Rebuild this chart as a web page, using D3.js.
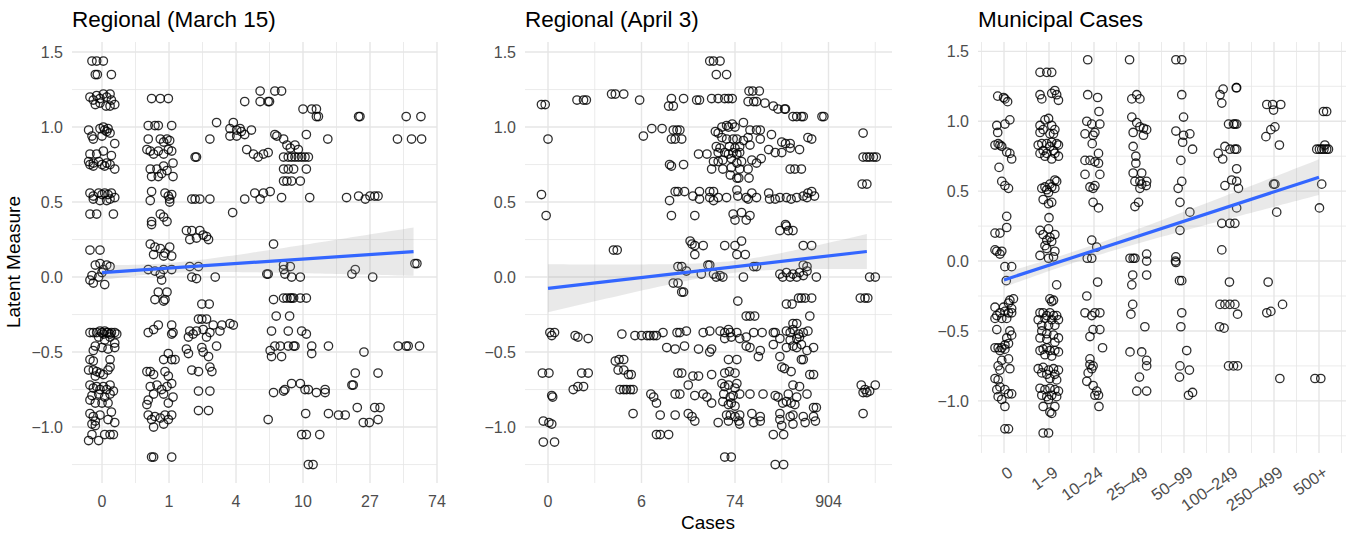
<!DOCTYPE html>
<html>
<head>
<meta charset="utf-8">
<script src="https://cdn.jsdelivr.net/npm/d3@7"></script>
<style>
  body { margin: 0; background: #fff; }
  text { font-family: "Liberation Sans", Arial, Helvetica, sans-serif; }
</style>
</head>
<body>
<svg id="chart" width="1348" height="537"></svg>
<script>
// ---- data -------------------------------------------------------------
const yTicks = [-1.0, -0.5, 0.0, 0.5, 1.0, 1.5];
const march15Labels = ["0", "1", "4", "10", "27", "74"];
const april3Labels = ["0", "6", "74", "904"];
const municipalLabels = ["0", "1–9", "10–24", "25–49", "50–99", "100–249", "250–499", "500+"];

// [case position on the transformed axis (jittered), latent measure]
const march15Points = [
  [-0.15,1.44],[-0.08,1.44],[0.02,1.44],[-0.10,1.35],[-0.07,1.35],[0.14,1.35],
  [-0.18,1.2],[-0.13,1.18],[-0.08,1.21],[-0.03,1.19],[0.02,1.22],[0.07,1.2],[0.12,1.22],[0.14,1.18],[0.19,1.15],[-0.10,1.15],[-0.03,1.16],[0.06,1.14],[0.12,1.14],
  [-0.20,0.98],[-0.15,0.94],[-0.03,0.99],[0.02,1.0],[0.04,0.98],[0.07,0.97],[0.09,0.99],[0.12,0.96],[0.19,0.89],[0.0,0.94],[-0.13,0.92],
  [-0.18,0.82],[-0.08,0.82],[0.02,0.84],[0.14,0.81],[-0.2,0.77],[-0.13,0.76],[-0.05,0.77],[0.0,0.75],[0.07,0.76],[0.12,0.75],[0.19,0.72],[-0.13,0.74],[-0.18,0.75],[0.04,0.74],
  [-0.18,0.56],[-0.13,0.54],[-0.05,0.56],[0.0,0.55],[0.04,0.56],[0.09,0.55],[0.14,0.56],[0.19,0.53],[-0.13,0.52],[-0.03,0.51],[0.07,0.51],[0.12,0.52],
  [-0.18,0.42],[-0.08,0.42],[0.17,0.42],[-0.18,0.18],[-0.03,0.18],
  [-0.10,0.08],[-0.03,0.09],[0.07,0.08],[-0.15,0.01],[-0.05,0.0],[0.0,0.03],[0.02,0.05],[-0.13,-0.04],[0.04,-0.05],[0.12,0.07],[-0.18,-0.02],
  [-0.18,-0.37],[-0.13,-0.37],[-0.08,-0.37],[-0.03,-0.36],[0.0,-0.37],[0.02,-0.38],[0.04,-0.36],[0.07,-0.37],[0.09,-0.37],[0.12,-0.38],[0.14,-0.37],[0.19,-0.37],[0.22,-0.38],
  [-0.05,-0.40],[0.04,-0.42],[0.12,-0.40],[0.19,-0.44],[-0.10,-0.46],[0.0,-0.47],[0.09,-0.48],[0.19,-0.47],[-0.13,-0.49],
  [-0.18,-0.55],[-0.13,-0.56],[0.12,-0.55],[-0.20,-0.62],[-0.13,-0.62],[-0.08,-0.63],[-0.03,-0.64],[0.02,-0.65],[0.09,-0.62],[0.12,-0.6],[-0.1,-0.66],
  [-0.18,-0.72],[-0.13,-0.74],[-0.08,-0.73],[-0.03,-0.75],[0.02,-0.73],[0.07,-0.75],[0.12,-0.72],[0.17,-0.76],[-0.15,-0.79],[-0.05,-0.78],[0.04,-0.8],[0.12,-0.78],[-0.18,-0.82],[-0.1,-0.84],[0.0,-0.84],[0.09,-0.84],
  [-0.18,-0.91],[-0.13,-0.93],[-0.10,-0.96],[-0.03,-0.92],[0.09,-0.95],[0.19,-0.97],[-0.15,-0.98],[-0.1,-0.99],[0.14,-0.9],
  [-0.20,-1.09],[-0.15,-1.05],[-0.05,-1.09],[0.04,-1.05],[0.12,-1.05],[0.17,-1.05],
  [0.74,1.19],[0.87,1.19],[0.99,1.19],[0.69,1.01],[0.79,1.01],[0.84,1.01],[1.04,1.01],
  [0.69,0.92],[0.87,0.92],[0.92,0.9],[0.97,0.92],[1.01,0.91],
  [0.67,0.85],[0.72,0.84],[0.77,0.82],[0.84,0.84],[0.92,0.82],[0.99,0.85],[1.04,0.84],
  [0.72,0.72],[0.82,0.72],[0.92,0.74],[1.06,0.76],[0.74,0.67],[0.84,0.67],[0.89,0.69],[0.97,0.71],[1.06,0.67],
  [0.74,0.57],[0.72,0.51],[0.94,0.56],[0.99,0.54],[1.01,0.52],[1.04,0.55],[1.01,0.5],
  [0.74,0.37],[0.87,0.42],[0.92,0.40],[0.97,0.37],[0.74,0.35],
  [0.72,0.22],[0.79,0.2],[0.87,0.19],[0.94,0.16],[1.01,0.2],[0.77,0.15],[0.92,0.14],[1.04,0.14],
  [0.69,0.05],[0.79,0.04],[0.92,0.05],[1.04,0.05],[0.87,0.02],[0.89,-0.02],
  [0.84,-0.1],[0.79,-0.15],[0.97,-0.1],[0.92,-0.16],[0.94,-0.15],
  [0.69,-0.37],[0.77,-0.35],[0.84,-0.32],[1.04,-0.32],[1.04,-0.38],[1.06,-0.37],
  [0.92,-0.55],[0.99,-0.51],[1.04,-0.55],[1.09,-0.55],
  [0.67,-0.63],[0.72,-0.63],[0.77,-0.65],[0.94,-0.63],[0.99,-0.66],
  [0.72,-0.73],[0.82,-0.72],[0.89,-0.75],[0.97,-0.73],[1.04,-0.71],[1.06,-0.8],[0.69,-0.82],[0.77,-0.78],[0.92,-0.78],[0.99,-0.84],[0.67,-0.85],
  [0.69,-0.92],[0.74,-0.95],[0.79,-0.93],[0.87,-0.94],[0.94,-0.92],[0.99,-0.95],[1.04,-0.92],[0.77,-1.0],[0.92,-0.98],
  [0.74,-1.2],[0.77,-1.2],[1.04,-1.2],
  [1.39,0.8],[1.41,0.8],[1.34,0.52],[1.39,0.52],[1.46,0.52],[1.61,0.52],
  [1.26,0.31],[1.34,0.31],[1.46,0.31],[1.51,0.28],[1.59,0.25],[1.31,0.25],[1.41,0.26],[1.56,0.27],
  [1.71,1.03],[1.61,0.92],
  [1.31,0.07],[1.44,0.07],[1.34,0.0],[1.41,-0.01],[1.69,0.0],
  [1.49,-0.18],[1.60,-0.18],[1.44,-0.28],[1.49,-0.28],[1.56,-0.28],
  [1.66,-0.32],[1.79,-0.32],[1.91,-0.31],[1.96,-0.32],
  [1.31,-0.36],[1.41,-0.36],[1.51,-0.35],[1.61,-0.37],[1.76,-0.36],[1.29,-0.4],[1.36,-0.38],[1.56,-0.4],
  [1.26,-0.48],[1.29,-0.51],[1.49,-0.47],[1.51,-0.5],[1.59,-0.53],[1.71,-0.46],
  [1.34,-0.62],[1.44,-0.63],[1.64,-0.63],[1.61,-0.6],[1.44,-0.76],[1.61,-0.76],[1.44,-0.89],[1.59,-0.89],
  [2.36,1.24],[2.58,1.24],[2.68,1.24],[2.13,1.17],[2.36,1.17],[2.48,1.17],[2.50,1.17],
  [1.96,1.03],[1.91,0.99],[2.01,0.98],[2.06,0.99],[2.08,0.97],[2.23,0.98],
  [1.91,0.94],[2.01,0.94],[2.13,0.95],[2.58,0.95],[2.61,0.94],[2.71,0.92],[3.05,0.95],
  [2.16,0.85],[2.26,0.82],[2.33,0.8],[2.41,0.82],[2.48,0.83],
  [2.76,0.88],[2.81,0.86],[2.88,0.88],[2.93,0.85],
  [2.71,0.8],[2.78,0.8],[2.83,0.8],[2.88,0.8],[2.93,0.8],[2.98,0.8],[3.03,0.8],[3.08,0.8],
  [2.71,0.72],[2.78,0.72],[2.86,0.72],[3.05,0.72],[2.71,0.64],[2.76,0.64],[2.83,0.64],[2.96,0.64],
  [2.28,0.56],[2.41,0.56],[2.51,0.57],[2.36,0.52],[2.13,0.52],[2.68,0.53],[3.10,0.53],
  [1.95,0.43],[2.56,0.22],[2.71,0.08],[2.81,0.07],
  [3.0,1.12],[3.13,1.12],[3.20,1.12],[3.23,1.07],[3.20,1.07],[3.37,0.92],
  [2.46,0.02],[2.48,0.02],[2.71,0.05],[2.73,0.02],[2.83,0.0],[2.96,0.0],
  [2.56,-0.15],[2.71,-0.14],[2.76,-0.14],[2.81,-0.14],[2.83,-0.14],[2.86,-0.14],[2.96,-0.14],[3.05,-0.14],
  [2.60,-0.26],[2.80,-0.26],[2.53,-0.36],[2.78,-0.36],[2.98,-0.36],[3.05,-0.38],
  [2.51,-0.49],[2.58,-0.46],[2.66,-0.46],[2.78,-0.46],[2.86,-0.46],[2.88,-0.46],[3.13,-0.46],[3.38,-0.46],[2.53,-0.53],[2.68,-0.53],[3.13,-0.51],
  [2.83,-0.71],[2.96,-0.71],[2.56,-0.77],[2.71,-0.76],[2.73,-0.75],[3.03,-0.75],[3.08,-0.75],[3.20,-0.77],[3.33,-0.77],[3.33,-0.75],
  [3.04,-0.91],[3.38,-0.91],[3.53,-0.92],[3.63,-0.92],[2.48,-0.95],
  [2.98,-1.05],[3.05,-1.05],[3.25,-1.05],[3.08,-1.25],[3.15,-1.25],
  [3.83,1.07],[3.85,1.07],[3.65,0.53],[3.83,0.54],[3.93,0.52],[4.0,0.54],[4.07,0.54],[4.12,0.54],
  [3.73,0.02],[3.78,0.05],[4.04,0.0],[3.91,-0.5],[3.78,-0.64],[4.12,-0.64],[3.73,-0.72],[3.75,-0.72],
  [3.81,-0.87],[4.07,-0.87],[4.15,-0.87],[3.90,-0.97],[3.99,-0.97],[4.12,-0.95],
  [4.54,1.07],[4.76,1.07],[4.41,0.92],[4.62,0.92],[4.77,0.92],[4.67,0.09],[4.70,0.09],
  [4.42,-0.46],[4.54,-0.46],[4.57,-0.46],[4.74,-0.46]
];

const april3Points = [
  [-0.07,1.15],[-0.03,1.15],[0.0,0.92],[-0.07,0.55],[-0.02,0.41],[0.31,1.18],[0.38,1.18],[0.41,1.18],
  [0.68,1.22],[0.72,1.22],[0.81,1.22],[0.98,1.18],[0.70,0.18],[0.74,0.18],[1.02,0.94],[1.11,0.99],
  [1.73,1.44],[1.77,1.44],[1.84,1.44],[1.80,1.35],[1.91,1.35],[2.15,1.24],[2.19,1.24],[2.26,1.24],
  [1.32,1.19],[1.45,1.19],[1.59,1.18],[1.62,1.18],[1.75,1.19],[1.82,1.19],[1.89,1.19],[1.93,1.19],[1.97,1.19],
  [2.14,1.17],[2.20,1.17],[2.23,1.17],[2.32,1.16],[2.41,1.14],
  [1.29,1.14],[1.34,1.14],[2.46,1.12],[2.53,1.12],[2.54,1.12],
  [2.62,1.07],[2.66,1.07],[2.71,1.07],[2.73,1.07],[2.93,1.07],[2.95,1.07],
  [1.22,0.99],[1.86,1.0],[1.91,1.01],[1.93,1.0],[1.97,1.02],[2.0,1.0],[2.09,1.03],
  [1.34,0.98],[1.38,0.98],[1.41,0.98],[1.79,0.97],[1.82,0.96],[2.16,0.98],[2.23,0.98],[2.27,0.98],[2.39,0.95],[3.37,0.96],
  [1.32,0.92],[1.36,0.92],[1.43,0.92],[1.86,0.93],[1.91,0.92],[1.98,0.92],[2.02,0.92],[2.09,0.91],[2.14,0.93],[2.27,0.92],[2.50,0.9],[2.54,0.89],[2.59,0.89],[2.78,0.93],[2.82,0.92],
  [1.80,0.87],[1.84,0.86],[1.94,0.87],[2.0,0.86],[2.05,0.87],[2.16,0.88],[2.59,0.86],
  [1.61,0.82],[1.70,0.82],[1.82,0.83],[1.89,0.83],[1.93,0.82],[1.98,0.83],[2.02,0.82],[2.05,0.83],[2.36,0.85],[2.43,0.83],[2.50,0.83],[2.69,0.85],
  [3.37,0.8],[3.41,0.8],[3.44,0.8],[3.48,0.8],[3.51,0.8],
  [1.77,0.77],[1.82,0.77],[1.87,0.78],[1.96,0.79],[2.02,0.76],[2.07,0.77],[2.18,0.78],[2.23,0.76],[2.28,0.79],
  [1.30,0.75],[1.32,0.74],[1.45,0.75],
  [1.75,0.72],[1.87,0.72],[1.96,0.73],[2.05,0.72],[2.14,0.72],[2.59,0.72],[2.64,0.72],[2.71,0.72],
  [1.95,0.68],[2.02,0.66],[2.04,0.66],[2.15,0.66],[3.36,0.62],[3.41,0.62],
  [1.36,0.57],[1.39,0.57],[1.46,0.57],[1.62,0.57],[1.73,0.57],[1.77,0.57],[2.02,0.58],[2.18,0.56],[2.36,0.56],[2.78,0.56],[2.82,0.57],
  [1.30,0.51],[1.55,0.54],[1.62,0.52],[1.73,0.53],[1.77,0.51],[1.82,0.53],[1.91,0.53],[2.03,0.54],[2.12,0.53],[2.14,0.52],[2.23,0.53],[2.37,0.52],[2.43,0.52],[2.48,0.53],[2.55,0.53],[2.60,0.52],[2.66,0.53],[2.73,0.54],[2.77,0.53],[2.85,0.54],
  [1.32,0.41],[1.57,0.41],[1.98,0.42],[2.07,0.43],[2.16,0.41],[2.0,0.38],[2.12,0.38],
  [2.54,0.35],[2.55,0.34],[2.48,0.31],[2.57,0.31],[2.62,0.31],
  [1.52,0.24],[1.54,0.22],[1.57,0.21],[1.66,0.21],[1.89,0.21],[2.0,0.21],[2.07,0.24],[2.73,0.21],[2.82,0.21],
  [1.57,0.15],[2.02,0.15],[2.11,0.15],
  [1.39,0.07],[1.43,0.07],[1.71,0.08],[1.73,0.08],[2.2,0.07],[2.23,0.07],[2.73,0.08],[2.77,0.07],
  [1.48,0.04],[1.64,0.02],[1.77,0.02],[1.80,0.0],[1.84,0.01],[1.87,0.0],[2.09,0.0],[2.48,0.02],[2.51,0.0],[2.55,0.03],[2.59,0.0],[2.62,0.02],[2.66,0.0],[2.69,0.03],[2.73,0.01],[2.77,0.04],[2.87,0.0],
  [1.34,-0.04],[1.39,-0.04],[1.43,-0.1],[1.45,-0.1],[3.44,0.0],[3.50,0.0],
  [3.34,-0.14],[3.39,-0.14],[3.42,-0.14],
  [2.55,-0.18],[2.61,-0.18],[2.68,-0.14],[2.71,-0.14],[2.75,-0.14],[2.82,-0.14],[2.03,-0.16],
  [2.12,-0.26],[2.16,-0.26],[2.21,-0.26],[2.80,-0.26],[2.62,-0.31],[2.66,-0.31],
  [1.23,-0.37],[1.38,-0.37],[1.41,-0.37],[1.48,-0.36],[1.66,-0.37],[1.73,-0.36],[1.84,-0.36],[1.89,-0.37],[1.93,-0.35],[1.95,-0.37],[2.02,-0.37],[2.2,-0.37],[2.29,-0.37],[2.41,-0.37],[2.43,-0.37],[2.55,-0.36],[2.59,-0.37],[2.62,-0.35],[2.68,-0.38],[2.73,-0.37],[2.78,-0.36],
  [1.89,-0.41],[1.96,-0.4],[2.05,-0.41],[2.12,-0.4],[2.48,-0.41],[2.59,-0.42],[2.66,-0.41],[2.69,-0.4],
  [1.27,-0.47],[1.36,-0.48],[1.46,-0.46],[1.61,-0.48],[1.73,-0.5],[1.75,-0.48],[2.12,-0.46],[2.16,-0.47],[2.27,-0.49],[2.41,-0.45],[2.55,-0.47],[2.62,-0.46],[2.66,-0.47],[2.71,-0.45],[2.77,-0.49],[2.84,-0.47],
  [2.25,-0.53],[2.48,-0.53],[2.71,-0.55],[2.73,-0.55],[1.93,-0.55],[2.02,-0.55],
  [1.39,-0.64],[1.43,-0.64],[1.55,-0.66],[1.61,-0.66],[1.75,-0.65],[1.89,-0.64],[1.94,-0.63],[2.0,-0.64],[2.50,-0.6],[2.53,-0.61],[2.60,-0.63],[2.80,-0.65],[2.84,-0.65],
  [1.50,-0.72],[1.86,-0.71],[1.89,-0.73],[1.93,-0.72],[2.0,-0.74],[2.02,-0.71],[2.62,-0.72],[2.69,-0.73],[3.35,-0.72],[3.39,-0.75],[3.50,-0.72],
  [1.36,-0.78],[1.41,-0.78],[1.57,-0.79],[1.66,-0.78],[1.70,-0.8],[1.88,-0.78],[1.95,-0.8],[1.98,-0.79],[2.05,-0.78],[2.16,-0.78],[2.30,-0.78],[2.43,-0.79],[2.46,-0.8],[2.57,-0.78],[2.66,-0.8],[2.77,-0.78],[3.37,-0.77],[3.41,-0.77],[3.44,-0.76],
  [1.75,-0.84],[1.87,-0.83],[1.93,-0.85],[1.96,-0.84],[2.0,-0.86],[2.51,-0.84],[2.55,-0.83],[2.60,-0.84],[2.64,-0.85],[2.84,-0.87],[2.87,-0.87],
  [1.20,-0.92],[1.36,-0.92],[1.50,-0.91],[1.54,-0.93],[1.91,-0.92],[1.95,-0.92],[2.0,-0.93],[2.05,-0.92],[2.18,-0.91],[2.27,-0.93],[2.48,-0.91],[2.59,-0.93],[2.62,-0.92],[2.73,-0.93],[2.84,-0.93],[3.37,-0.91],
  [1.57,-0.96],[1.82,-0.97],[1.93,-0.96],[2.04,-0.96],[2.05,-0.98],[2.2,-0.97],[2.27,-0.96],[2.48,-0.95],[2.50,-0.99],[2.62,-0.98],[2.75,-0.97],[2.86,-0.96],
  [1.16,-1.05],[1.20,-1.05],[1.29,-1.05],[2.41,-1.05],[2.52,-1.05],
  [1.89,-1.2],[1.96,-1.2],[2.43,-1.25],[2.52,-1.25],
  [0.02,-0.37],[0.04,-0.39],[0.07,-0.37],[-0.06,-0.64],[0.01,-0.64],[0.04,-0.79],[0.05,-0.80],[-0.05,-0.96],[0.01,-0.97],[0.04,-0.98],[-0.05,-1.1],[0.07,-1.1],
  [0.29,-0.39],[0.32,-0.4],[0.43,-0.41],[0.27,-0.75],[0.32,-0.73],[0.38,-0.73],[0.36,-0.64],[0.43,-0.64],
  [0.72,-0.56],[0.76,-0.55],[0.81,-0.55],[0.75,-0.62],[0.81,-0.62],[0.86,-0.65],[0.89,-0.65],[0.77,-0.75],[0.81,-0.75],[0.84,-0.75],[0.88,-0.75],[0.91,-0.75],[0.79,-0.38],[0.91,-0.91],
  [0.93,-0.39],[1.0,-0.39],[1.06,-0.39],[1.09,-0.39],[1.13,-0.39],[1.16,-0.39],[1.10,-0.78],[1.13,-0.8],[1.16,-0.84]
];

// [case-band index (jittered), latent measure]
const municipalPoints = [
  [-0.14,1.18],[-0.01,1.17],[0.02,1.16],[0.08,1.14],[-0.16,0.97],[0.02,0.98],[0.13,1.01],[-0.14,0.92],
  [-0.2,0.83],[-0.13,0.84],[-0.09,0.83],[-0.05,0.82],[0.06,0.78],[0.13,0.77],[0.17,0.73],[-0.11,0.67],
  [-0.05,0.57],[0.02,0.54],[0.1,0.52],[0.06,0.32],[-0.2,0.2],[-0.09,0.2],[0.06,0.24],
  [-0.2,0.08],[-0.16,0.07],[-0.09,0.05],[-0.05,0.07],[0.02,-0.04],[0.17,-0.04],[0.05,-0.14],
  [0.13,-0.28],[0.21,-0.27],[0.1,-0.30],[-0.01,-0.33],[0.17,-0.34],
  [-0.2,-0.33],[-0.16,-0.39],[-0.09,-0.37],[0.02,-0.36],[0.1,-0.37],[0.17,-0.37],[-0.05,-0.41],[0.06,-0.41],[-0.2,-0.41],
  [-0.16,-0.49],[0.13,-0.5],[0.17,-0.53],[0.06,-0.55],[0.1,-0.59],[0.02,-0.6],
  [-0.2,-0.62],[-0.13,-0.62],[-0.05,-0.62],[0.02,-0.63],[-0.09,-0.64],
  [0.1,-0.70],[-0.05,-0.71],[-0.13,-0.75],[-0.09,-0.78],[0.13,-0.77],
  [-0.2,-0.84],[-0.13,-0.85],[-0.09,-0.9],[-0.16,-0.92],[0.02,-0.92],[0.1,-0.95],[0.17,-0.95],
  [-0.13,-0.97],[-0.05,-0.99],[0.02,-1.04],[0.02,-1.2],[0.1,-1.2],
  [0.8,1.35],[0.95,1.35],[1.06,1.35],
  [0.8,1.19],[0.84,1.16],[1.13,1.22],[1.17,1.19],[1.06,1.2],[1.21,1.15],
  [0.91,1.01],[0.99,1.02],[0.8,0.97],[1.06,0.97],[0.87,0.94],[1.13,0.94],[1.02,0.91],[1.1,0.91],[0.8,0.92],
  [0.84,0.84],[0.95,0.84],[1.06,0.85],[1.17,0.84],[0.76,0.83],[1.02,0.82],[0.87,0.79],[1.1,0.79],[1.21,0.83],[0.8,0.77],[0.95,0.77],[1.13,0.77],[0.91,0.75],[1.06,0.73],[1.21,0.75],
  [1.13,0.58],[1.17,0.57],[1.02,0.55],[0.91,0.53],[1.06,0.53],[0.84,0.52],[0.95,0.51],[1.13,0.52],[0.99,0.49],
  [0.87,0.44],[1.06,0.42],[0.99,0.41],[1.0,0.31],
  [0.8,0.22],[0.99,0.23],[1.13,0.19],[0.87,0.19],[1.02,0.17],[0.95,0.15],[1.06,0.14],[0.91,0.11],
  [0.8,0.04],[0.95,0.09],[0.99,0.02],[1.1,0.03],[1.13,0.07],
  [1.17,-0.17],[1.1,-0.28],[1.02,-0.27],[1.06,-0.29],
  [0.8,-0.37],[0.87,-0.37],[0.95,-0.39],[1.02,-0.37],[1.1,-0.39],[1.17,-0.39],[0.76,-0.42],[0.91,-0.41],[1.06,-0.42],[1.21,-0.42],[0.84,-0.46],[0.99,-0.46],[1.13,-0.46],
  [0.84,-0.5],[0.95,-0.52],[1.1,-0.53],[1.21,-0.55],[0.8,-0.55],[0.95,-0.56],[1.13,-0.58],
  [0.8,-0.64],[0.87,-0.63],[0.95,-0.62],[1.02,-0.64],[1.13,-0.64],[1.21,-0.65],[0.91,-0.67],[1.06,-0.68],
  [0.76,-0.77],[0.87,-0.76],[0.99,-0.78],[1.1,-0.77],[1.21,-0.78],[0.84,-0.80],[0.95,-0.81],[1.13,-0.81],[1.02,-0.84],[1.17,-0.85],
  [0.8,-0.91],[0.91,-0.92],[1.02,-0.91],[1.13,-0.92],[1.21,-0.93],[0.84,-0.96],[0.95,-0.97],[1.06,-0.96],[1.17,-0.97],[0.99,-0.99],
  [1.13,-1.04],[0.87,-1.04],[1.06,-1.09],[1.02,-1.08],[0.87,-1.23],[0.99,-1.23],
  [1.86,1.44],[1.86,1.19],[2.08,1.17],[2.11,1.07],
  [1.84,1.0],[1.95,0.98],[2.02,0.92],[2.13,0.98],[1.8,0.91],[1.98,0.9],
  [1.96,0.84],[2.1,0.77],[1.8,0.72],[1.91,0.72],[2.02,0.71],[2.1,0.7],
  [1.8,0.62],[2.13,0.62],[1.91,0.53],[2.02,0.54],[1.98,0.52],[1.98,0.42],[2.1,0.38],
  [1.95,0.15],[2.06,0.1],[1.85,0.02],[1.95,0.02],
  [2.08,-0.15],[1.84,-0.25],[1.8,-0.37],[1.95,-0.39],[2.02,-0.37],[2.13,-0.37],
  [1.98,-0.49],[2.13,-0.49],[1.91,-0.54],[2.19,-0.62],
  [1.91,-0.7],[1.91,-0.74],[1.98,-0.75],[1.95,-0.77],[1.87,-0.8],[1.84,-0.86],[1.98,-0.89],[2.06,-0.93],[2.02,-0.96],[2.1,-0.96],[2.11,-1.04],
  [2.79,1.44],[2.84,1.16],[2.95,1.19],[3.02,1.16],
  [2.84,1.03],[2.95,0.99],[3.02,0.96],[3.1,0.95],[3.17,0.94],[2.87,0.92],[3.1,0.9],
  [2.87,0.82],[2.93,0.75],[2.93,0.7],
  [2.87,0.63],[3.06,0.63],[2.91,0.57],[3.02,0.57],[3.17,0.57],[3.02,0.52],[3.16,0.54],[3.06,0.55],
  [2.99,0.42],[2.91,0.39],
  [2.8,0.02],[2.87,0.02],[2.91,0.02],[3.17,0.05],[3.17,0.0],
  [2.86,-0.1],[2.84,-0.17],[3.17,-0.1],[2.86,-0.31],[2.82,-0.38],[3.13,-0.47],
  [2.8,-0.65],[3.06,-0.65],[3.17,-0.71],[3.17,-0.75],[3.01,-0.83],[2.95,-0.93],[3.17,-0.93],
  [3.82,1.44],[3.95,1.44],[3.95,1.19],[3.99,1.03],
  [3.82,0.93],[3.99,0.9],[4.13,0.91],[3.97,0.85],[4.19,0.8],[3.93,0.72],
  [3.95,0.57],[3.87,0.52],[3.91,0.42],[4.13,0.35],[3.91,0.22],[3.82,0.03],[3.81,0.0],[3.82,-0.01],
  [3.9,-0.14],[3.95,-0.14],[3.95,-0.37],[3.93,-0.47],[4.06,-0.64],
  [3.91,-0.75],[4.12,-0.78],[3.9,-0.83],[4.1,-0.96],[4.19,-0.94],
  [4.87,1.23],[5.16,1.24],[5.17,1.24],[4.8,1.19],[4.84,1.13],
  [4.99,0.98],[5.1,0.98],[5.13,0.98],[5.17,0.98],
  [4.91,0.82],[4.76,0.77],[5.02,0.8],[5.13,0.8],[5.17,0.8],[4.86,0.73],[5.17,0.66],
  [4.91,0.54],[5.06,0.58],[5.17,0.57],[5.21,0.52],[5.17,0.38],
  [4.84,0.27],[5.02,0.27],[5.13,0.27],[4.84,0.08],
  [5.01,-0.15],[4.8,-0.31],[4.91,-0.31],[5.02,-0.31],[5.13,-0.31],[5.19,-0.38],
  [4.79,-0.47],[4.89,-0.48],[4.99,-0.75],[5.1,-0.75],[5.19,-0.75],
  [5.84,1.12],[5.97,1.12],[6.15,1.12],[5.99,1.08],[6.02,0.96],[5.93,0.94],[5.82,0.89],[6.12,0.83],
  [5.99,0.55],[6.02,0.55],[6.06,0.35],[5.87,-0.15],[5.84,-0.37],[5.93,-0.36],[6.19,-0.31],[6.13,-0.84],
  [7.1,1.07],[7.17,1.07],[6.95,0.8],[7.01,0.8],[7.06,0.8],[7.11,0.8],[7.17,0.8],[7.21,0.8],[7.13,0.83],
  [7.06,0.55],[7.01,0.38],[6.91,-0.84],[7.04,-0.84]
];

// Linear fits with their 95% bands: fitted value = intercept + slope * x,
// half-width = sqrt(seMin^2 + seSlope^2 * (x - xMean)^2)
const march15Fit = { from: 0, to: 4.65, intercept: 0.03, slope: 0.030, xMean: 0.9, seMin: 0.033, seSlope: 0.042 };
const april3Fit = { from: 0, to: 3.41, intercept: -0.075, slope: 0.072, xMean: 2.0, seMin: 0.04, seSlope: 0.0775 };
const municipalFit = { from: 0, to: 7, intercept: -0.135, slope: 0.105, xMean: 1.5, seMin: 0.04, seSlope: 0.022 };

// ---- drawing ----------------------------------------------------------
const svg = d3.select("#chart");
const yDomain = [-1.373, 1.567];
const fmt = d3.format(".1f");
const gridColor = "#e6e6e6";

const panels = [
  { title: "Regional (March 15)", box: [72, 437, 42, 483], xDomain: [-0.448, 5.0],
    ticks: d3.range(0, 6), labels: march15Labels, minor: d3.range(0.5, 5, 1),
    points: march15Points, fit: march15Fit, rotate: false },
  { title: "Regional (April 3)", box: [525, 892, 42, 483], xDomain: [-0.246, 3.679],
    ticks: d3.range(0, 4), labels: april3Labels, minor: d3.range(0.5, 4, 1),
    points: april3Points, fit: april3Fit, rotate: false },
  { title: "Municipal Cases", box: [978, 1346, 42, 453], xDomain: [-0.578, 7.6],
    ticks: d3.range(0, 8), labels: municipalLabels, minor: d3.range(-0.5, 8, 1),
    points: municipalPoints, fit: municipalFit, rotate: true }
];

panels.forEach(p => {
  const [left, right, top, bottom] = p.box;
  const x = d3.scaleLinear().domain(p.xDomain).range([left, right]);
  const y = d3.scaleLinear().domain(yDomain).range([bottom, top]);
  const g = svg.append("g");

  // grid
  const yMinor = d3.range(-1.25, 1.5, 0.5);
  g.selectAll(".ymin").data(yMinor).join("line")
    .attr("x1", left).attr("x2", right).attr("y1", d => y(d)).attr("y2", d => y(d))
    .attr("stroke", gridColor).attr("stroke-width", 0.8);
  g.selectAll(".xmin").data(p.minor.filter(d => x(d) >= left && x(d) <= right)).join("line")
    .attr("y1", top).attr("y2", bottom).attr("x1", d => x(d)).attr("x2", d => x(d))
    .attr("stroke", gridColor).attr("stroke-width", 0.8);
  g.selectAll(".ymaj").data(yTicks).join("line")
    .attr("x1", left).attr("x2", right).attr("y1", d => y(d)).attr("y2", d => y(d))
    .attr("stroke", gridColor).attr("stroke-width", 1.4);
  g.selectAll(".xmaj").data(p.ticks).join("line")
    .attr("y1", top).attr("y2", bottom).attr("x1", d => x(d)).attr("x2", d => x(d))
    .attr("stroke", gridColor).attr("stroke-width", 1.4);

  // y tick labels
  g.selectAll(".ylab").data(yTicks).join("text")
    .attr("x", left - 9).attr("y", d => y(d)).attr("dy", "0.36em")
    .attr("text-anchor", "end").attr("font-size", 16).attr("fill", "#4d4d4d")
    .text(d => fmt(d));

  // x tick labels
  if (p.rotate) {
    g.selectAll(".xlab").data(p.ticks).join("text")
      .attr("transform", d => `translate(${x(d) + 10},${bottom + 22}) rotate(-35)`)
      .attr("text-anchor", "end").attr("font-size", 16.5).attr("fill", "#4d4d4d")
      .text((d, i) => p.labels[i]);
  } else {
    g.selectAll(".xlab").data(p.ticks).join("text")
      .attr("x", d => x(d)).attr("y", bottom + 24)
      .attr("text-anchor", "middle").attr("font-size", 16).attr("fill", "#4d4d4d")
      .text((d, i) => p.labels[i]);
  }

  // title
  g.append("text").attr("x", left).attr("y", 27)
    .attr("font-size", 22.5).attr("fill", "#000").text(p.title);

  // jittered points
  g.selectAll(".pt").data(p.points).join("circle")
    .attr("cx", d => x(d[0])).attr("cy", d => y(d[1])).attr("r", 4.2)
    .attr("fill", "none").attr("stroke", "#000").attr("stroke-opacity", 0.82)
    .attr("stroke-width", 1.3);

  // fitted line with confidence band
  const f = p.fit;
  const xs = d3.range(0, 61).map(i => f.from + (f.to - f.from) * i / 60);
  const band = xs.map(v => {
    const m = f.intercept + f.slope * v;
    const h = Math.sqrt(f.seMin * f.seMin + f.seSlope * f.seSlope * (v - f.xMean) * (v - f.xMean));
    return { x: v, lo: m - h, hi: m + h };
  });
  g.append("path").datum(band)
    .attr("d", d3.area().x(d => x(d.x)).y0(d => y(d.lo)).y1(d => y(d.hi)))
    .attr("fill", "#999999").attr("fill-opacity", 0.22);
  g.append("line")
    .attr("x1", x(f.from)).attr("y1", y(f.intercept + f.slope * f.from))
    .attr("x2", x(f.to)).attr("y2", y(f.intercept + f.slope * f.to))
    .attr("stroke", "#3366FF").attr("stroke-width", 3.2).attr("stroke-linecap", "butt");
});

// axis titles
svg.append("text")
  .attr("transform", "translate(20,262) rotate(-90)")
  .attr("text-anchor", "middle").attr("font-size", 19).attr("fill", "#000")
  .text("Latent Measure");
svg.append("text")
  .attr("x", 708).attr("y", 529).attr("text-anchor", "middle")
  .attr("font-size", 19).attr("fill", "#000").text("Cases");
</script>
</body>
</html>
